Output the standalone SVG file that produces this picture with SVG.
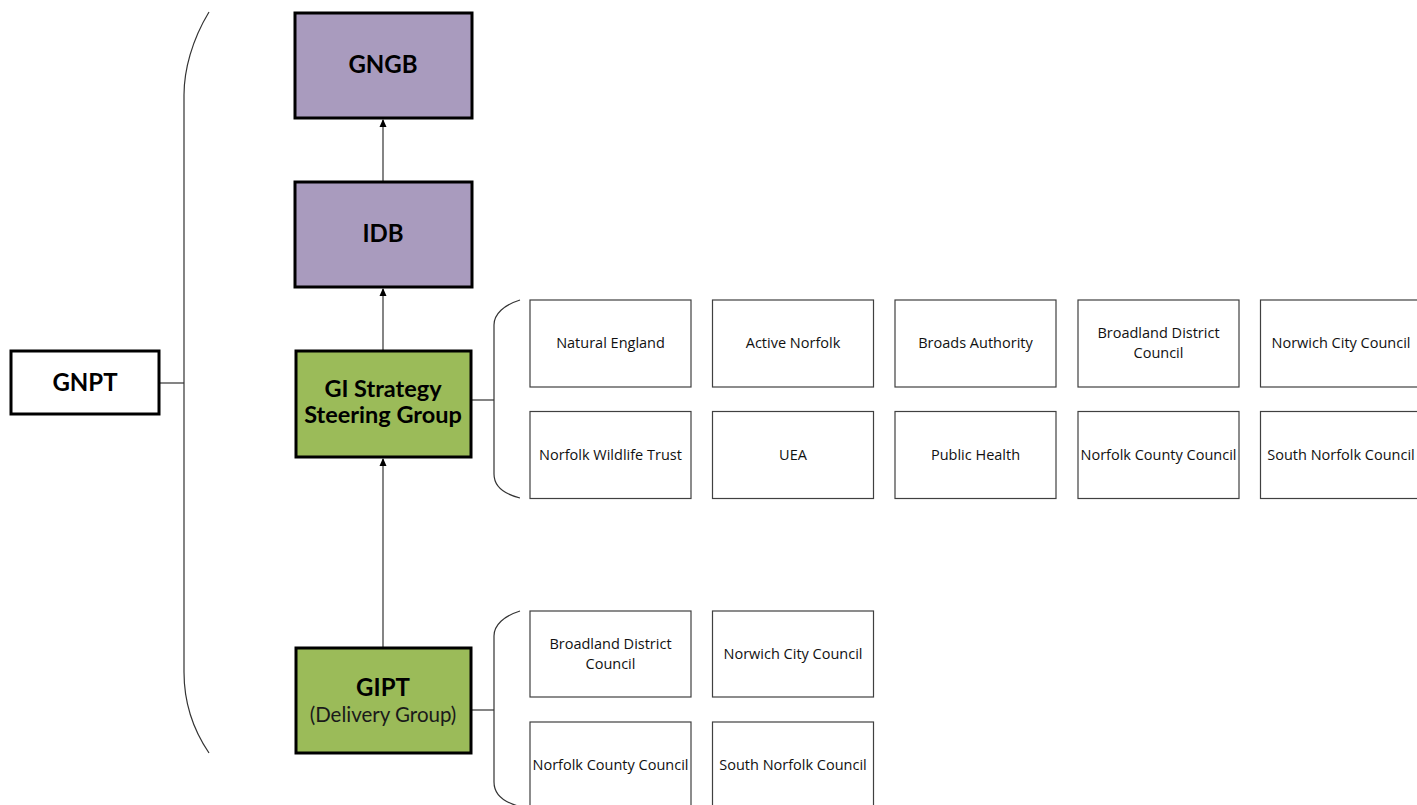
<svg xmlns="http://www.w3.org/2000/svg" width="1417" height="805" viewBox="0 0 1417 805">
<style>
.big{stroke:#000;stroke-width:3}
.purple{fill:#A99BBE}
.green{fill:#9BBB59}
.white{fill:#fff}
.small{fill:#fff;stroke:#404040;stroke-width:1.2}
.bt{font-family:Lato,"Liberation Sans",sans-serif;font-weight:bold;font-size:24px;fill:#000;text-anchor:middle}
.nt{font-family:Lato,"Liberation Sans",sans-serif;font-size:20.5px;fill:#1a1a1a;text-anchor:middle}
.st{font-family:"Open Sans","Liberation Sans",sans-serif;font-size:14.5px;fill:#111;text-anchor:middle}
.ln{fill:none;stroke:#333;stroke-width:1.2}
</style>
<defs>
<marker id="ah" markerWidth="8" markerHeight="8" refX="7" refY="4" orient="auto" markerUnits="userSpaceOnUse">
<path d="M0,0.5 L8,4 L0,7.5 Z" fill="#000"/>
</marker>
</defs>
<g id="connectors">
<path class="ln" d="M209,12 C192,40 184,70 184,95 L184,672 C184,700 192,728 209,753"/>
<line class="ln" x1="159" y1="383" x2="184" y2="383"/>
<line class="ln" x1="383" y1="182" x2="383" y2="120" marker-end="url(#ah)"/>
<line class="ln" x1="383" y1="350" x2="383" y2="289" marker-end="url(#ah)"/>
<line class="ln" x1="383" y1="647" x2="383" y2="459" marker-end="url(#ah)"/>
<path class="ln" d="M520,300 C504,305 494,314 494,325 L494,474 C494,486 504,494 520,498"/>
<line class="ln" x1="471" y1="400" x2="494" y2="400"/>
<path class="ln" d="M520,611 C504,616 494,625 494,636 L494,782 C494,794 504,802 518,806"/>
<line class="ln" x1="471" y1="710" x2="494" y2="710"/>
</g>
<g id="gnpt"><rect class="big white" x="11" y="351" width="148" height="63"/><text class="bt" x="85" y="391">GNPT</text></g>
<g id="gngb"><rect class="big purple" x="295" y="13" width="177" height="105"/><text class="bt" x="383" y="73">GNGB</text></g>
<g id="idb"><rect class="big purple" x="295" y="182" width="177" height="105"/><text class="bt" x="383" y="242">IDB</text></g>
<g id="gi-steering"><rect class="big green" x="296" y="351" width="175" height="106"/><text class="bt" x="383" y="397" style="font-size:23.5px">GI Strategy</text><text class="bt" x="383" y="423" style="font-size:23.5px">Steering Group</text></g>
<g id="gipt"><rect class="big green" x="296" y="648" width="175" height="105"/><text class="bt" x="383" y="696">GIPT</text><text class="nt" x="383" y="722">(Delivery Group)</text></g>
<g id="s-natural-england"><rect class="small" x="530" y="300" width="161" height="87"/><text class="st" x="610.5" y="348">Natural England</text></g>
<g id="s-active-norfolk"><rect class="small" x="712.500" y="300" width="161" height="87"/><text class="st" x="793" y="348">Active Norfolk</text></g>
<g id="s-broads-authority"><rect class="small" x="895" y="300" width="161" height="87"/><text class="st" x="975.5" y="348">Broads Authority</text></g>
<g id="s-broadland-1"><rect class="small" x="1078" y="300" width="161" height="87"/><text class="st" x="1158.5" y="338">Broadland District</text><text class="st" x="1158.5" y="358">Council</text></g>
<g id="s-norwich-1"><rect class="small" x="1260.500" y="300" width="161" height="87"/><text class="st" x="1341" y="348">Norwich City Council</text></g>
<g id="s-nwt"><rect class="small" x="530" y="411.500" width="161" height="87"/><text class="st" x="610.5" y="460">Norfolk Wildlife Trust</text></g>
<g id="s-uea"><rect class="small" x="712.500" y="411.500" width="161" height="87"/><text class="st" x="793" y="460">UEA</text></g>
<g id="s-public-health"><rect class="small" x="895" y="411.500" width="161" height="87"/><text class="st" x="975.5" y="460">Public Health</text></g>
<g id="s-ncc-1"><rect class="small" x="1078" y="411.500" width="161" height="87"/><text class="st" x="1158.5" y="460">Norfolk County Council</text></g>
<g id="s-snc-1"><rect class="small" x="1260.500" y="411.500" width="161" height="87"/><text class="st" x="1341" y="460">South Norfolk Council</text></g>
<g id="d-broadland"><rect class="small" x="530" y="611" width="161" height="86"/><text class="st" x="610.5" y="649">Broadland District</text><text class="st" x="610.5" y="669">Council</text></g>
<g id="d-norwich"><rect class="small" x="712.500" y="611" width="161" height="86"/><text class="st" x="793" y="659">Norwich City Council</text></g>
<g id="d-ncc"><rect class="small" x="530" y="722" width="161" height="90"/><text class="st" x="610.5" y="770">Norfolk County Council</text></g>
<g id="d-snc"><rect class="small" x="712.500" y="722" width="161" height="90"/><text class="st" x="793" y="770">South Norfolk Council</text></g>
</svg>
